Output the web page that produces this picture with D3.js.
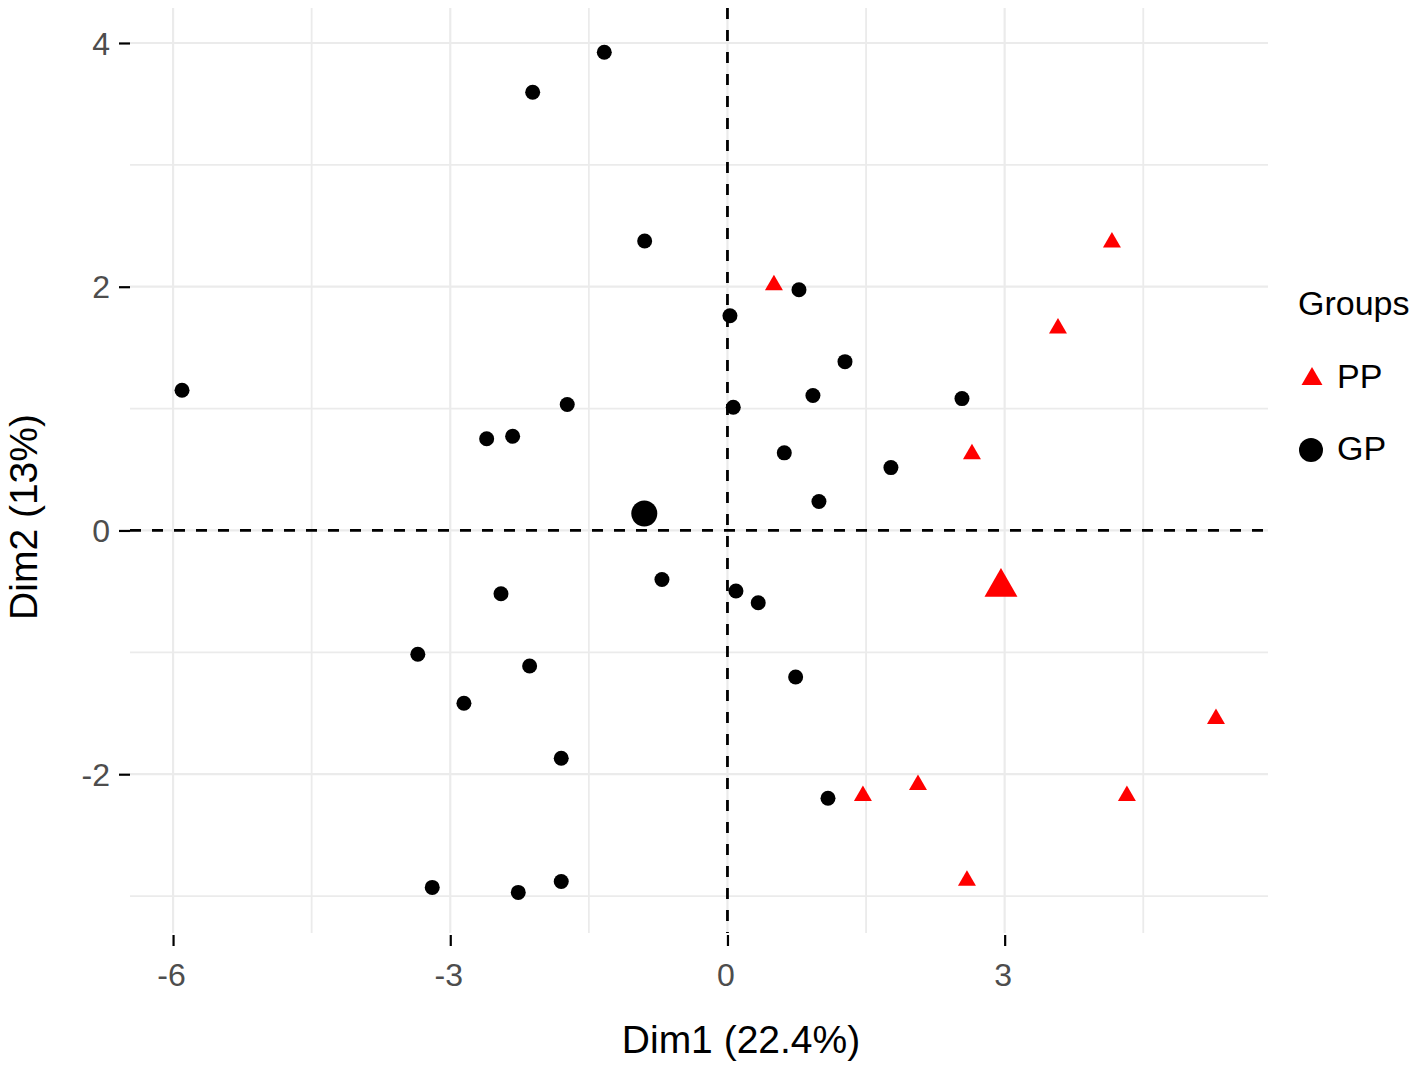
<!DOCTYPE html>
<html>
<head>
<meta charset="utf-8">
<script src="https://cdn.jsdelivr.net/npm/d3@7"></script>
<style>
body { margin:0; background:#fff; }
text { font-family: "Liberation Sans", Arial, sans-serif; }
</style>
</head>
<body>
<svg></svg>
<script>
var screen = {width:1418, height:1067};
var panel = {left:130, right:1268, top:8, bottom:933};

// individuals, group GP (circles)
var gpX = [-1.333,-2.108,-0.896,0.774,0.027,1.272,-5.903,-1.734,0.063,0.925,2.538,-2.606,-2.325,0.615,1.769,0.990,
           -0.709,0.092,0.333,-2.451,-3.351,-2.141,0.738,-2.852,-1.799,1.088,-3.195,-2.264,-1.799];
var gpY = [3.924,3.596,2.375,1.975,1.762,1.385,1.150,1.033,1.011,1.107,1.082,0.752,0.773,0.637,0.516,0.238,
           -0.402,-0.497,-0.593,-0.519,-1.016,-1.112,-1.202,-1.418,-1.869,-2.197,-2.929,-2.970,-2.880];

// individuals, group PP (triangles)
var ppX = [0.503,4.161,3.577,2.646,5.287,2.062,1.466,4.323,2.592];
var ppY = [2.014,2.364,1.659,0.627,-1.546,-2.087,-2.177,-2.177,-2.873];

// group mean points
var groupNames = ["PP","GP"];
var centerX = [2.960,-0.900];
var centerY = [-0.465,0.139];

var xTicks = [-6,-3,0,3];
var xMinor = [-4.5,-1.5,1.5,4.5];
var yTicks = [-2,0,2,4];
var yMinor = [-3,-1,1,3];
var xTitle = "Dim1 (22.4%)";
var yTitle = "Dim2 (13%)";
var legendTitle = "Groups";

var setup = function()
    {
        var svg = d3.select("svg")
            .attr("width", screen.width)
            .attr("height", screen.height);

        var xscale = d3.scaleLinear()
                        .domain([-6.466,5.850])
                        .range([panel.left,panel.right]);
        var yscale = d3.scaleLinear()
                        .domain([-3.303,4.287])
                        .range([panel.bottom,panel.top]);

        // grid
        var grid = svg.append("g").attr("id","grid");
        grid.selectAll(".vx")
            .data(xTicks.concat(xMinor))
            .enter()
            .append("line")
            .attr("x1", function(d){return xscale(d);})
            .attr("x2", function(d){return xscale(d);})
            .attr("y1", panel.top)
            .attr("y2", panel.bottom)
            .attr("stroke","#EBEBEB")
            .attr("stroke-width", function(d){return xTicks.indexOf(d)>=0 ? 2.2 : 1.8;});
        grid.selectAll(".hy")
            .data(yTicks.concat(yMinor))
            .enter()
            .append("line")
            .attr("y1", function(d){return yscale(d);})
            .attr("y2", function(d){return yscale(d);})
            .attr("x1", panel.left)
            .attr("x2", panel.right)
            .attr("stroke","#EBEBEB")
            .attr("stroke-width", function(d){return yTicks.indexOf(d)>=0 ? 2.2 : 1.8;});

        // reference lines at 0
        svg.append("line")
            .attr("x1", panel.left).attr("x2", panel.right)
            .attr("y1", yscale(0)).attr("y2", yscale(0))
            .attr("stroke","#000").attr("stroke-width",2.8)
            .attr("stroke-dasharray","11,11");
        svg.append("line")
            .attr("x1", xscale(0)).attr("x2", xscale(0))
            .attr("y1", panel.top).attr("y2", panel.bottom)
            .attr("stroke","#000").attr("stroke-width",2.8)
            .attr("stroke-dasharray","11,11");

        // axes (plain hyphen minus, as in the original)
        var fmt = function(d){return String(d);};
        var xAxis = d3.axisBottom(xscale).tickValues(xTicks).tickSize(11).tickPadding(17).tickFormat(fmt);
        var yAxis = d3.axisLeft(yscale).tickValues(yTicks).tickSize(11).tickPadding(9).tickFormat(fmt);
        var gx = svg.append("g")
            .attr("id","xAxis")
            .attr("transform","translate(0,"+(panel.bottom+2)+")")
            .call(xAxis);
        var gy = svg.append("g")
            .attr("id","yAxis")
            .attr("transform","translate("+panel.left+",0)")
            .call(yAxis);
        [gx,gy].forEach(function(g)
            {
                g.select(".domain").remove();
                g.selectAll(".tick line").attr("stroke","#000").attr("stroke-width",2.2);
                g.selectAll(".tick text")
                    .attr("fill","#4D4D4D")
                    .style("font-size","32px")
                    .style("font-family","'Liberation Sans', Arial, sans-serif");
            });
        gx.selectAll(".tick text").attr("dx","-2");
        gy.selectAll(".tick text").attr("dy","0.35em");

        // axis titles
        svg.append("text")
            .attr("x",741).attr("y",1053)
            .attr("text-anchor","middle")
            .style("font-size","39px")
            .text(xTitle);
        svg.append("text")
            .attr("transform","translate(37,517) rotate(-90)")
            .attr("text-anchor","middle")
            .style("font-size","39px")
            .text(yTitle);

        drawPoints(svg, xscale, yscale);
        drawLegend(svg);
    };

var drawPoints = function(svg, xscale, yscale)
    {
        var gp = gpX.map(function(d,i){return {x:d, y:gpY[i]};});
        var pp = ppX.map(function(d,i){return {x:d, y:ppY[i]};});

        svg.append("g").attr("id","gp")
            .selectAll("circle")
            .data(gp)
            .enter()
            .append("circle")
            .attr("cx", function(d){return xscale(d.x);})
            .attr("cy", function(d){return yscale(d.y);})
            .attr("r", 7.5)
            .attr("fill","#000");

        svg.append("g").attr("id","pp")
            .selectAll("path")
            .data(pp)
            .enter()
            .append("path")
            .attr("d", d3.symbol().type(d3.symbolTriangle).size(140))
            .attr("transform", function(d){return "translate("+xscale(d.x)+","+yscale(d.y)+")";})
            .attr("fill","#FF0000");

        // group means
        var means = svg.append("g").attr("id","means");
        means.append("path")
            .attr("d", d3.symbol().type(d3.symbolTriangle).size(470))
            .attr("transform","translate("+xscale(centerX[0])+","+yscale(centerY[0])+")")
            .attr("fill","#FF0000");
        means.append("circle")
            .attr("cx", xscale(centerX[1]))
            .attr("cy", yscale(centerY[1]))
            .attr("r", 13)
            .attr("fill","#000");
    };

var drawLegend = function(svg)
    {
        var lg = svg.append("g").attr("id","legend");
        lg.append("text")
            .attr("x",1298).attr("y",315)
            .style("font-size","34px")
            .text(legendTitle);
        lg.append("path")
            .attr("d", d3.symbol().type(d3.symbolTriangle).size(190))
            .attr("transform","translate(1312,379)")
            .attr("fill","#FF0000");
        lg.append("circle")
            .attr("cx",1311).attr("cy",450).attr("r",12)
            .attr("fill","#000");
        lg.selectAll(".lab")
            .data(groupNames)
            .enter()
            .append("text")
            .attr("x",1337)
            .attr("y", function(d,i){return 388 + i*72;})
            .style("font-size","34px")
            .text(function(d){return d;});
    };

setup();
</script>
</body>
</html>
